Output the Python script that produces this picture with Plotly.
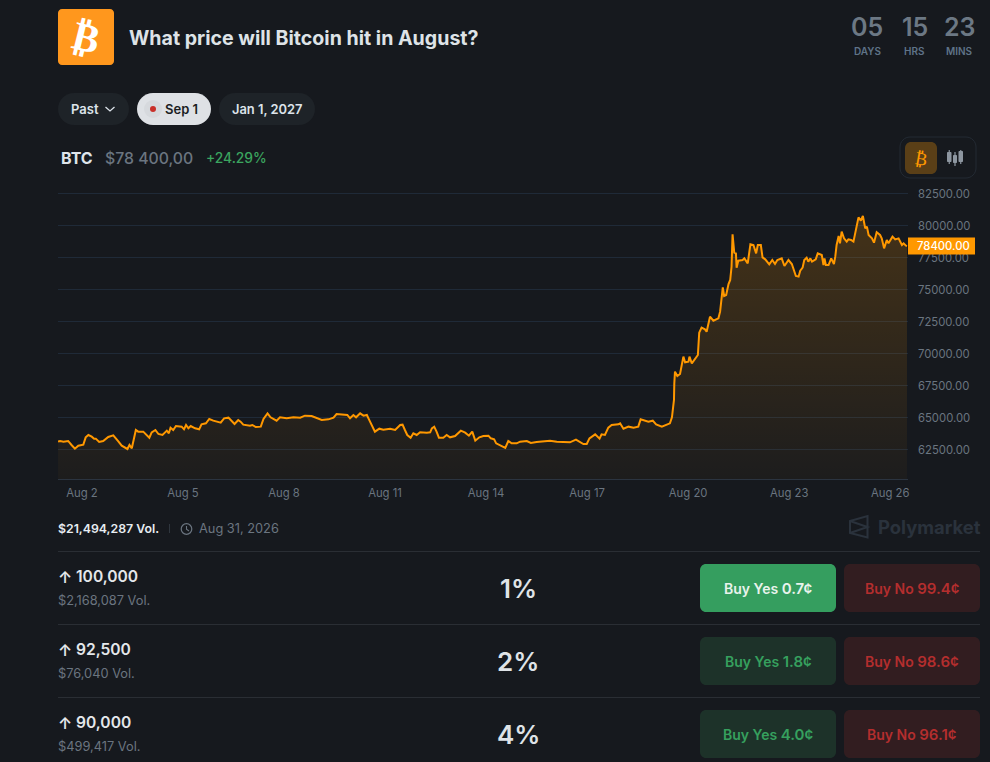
import plotly.graph_objects as go

W, H = 990, 762
BG = "#16191e"

# ---------- chart data ----------
days = [1.29,1.35,1.45,1.59,1.69,1.79,1.89,2.04,2.11,2.19,2.29,2.36,2.41,2.51,2.63,2.78,2.93,3.0,3.08,3.18,3.35,3.41,3.48,3.6,3.67,3.82,4.0,4.07,4.18,4.27,4.39,4.52,4.58,4.63,4.71,4.79,4.96,5.03,5.09,5.16,5.23,5.36,5.48,5.55,5.68,5.78,5.9,6.12,6.22,6.35,6.53,6.64,6.71,6.79,6.99,7.06,7.16,7.31,7.39,7.51,7.6,7.78,7.88,8.08,8.28,8.48,8.62,8.82,8.97,9.12,9.32,9.47,9.56,9.81,9.88,9.96,10.06,10.14,10.26,10.36,10.46,10.54,10.63,10.7,10.83,10.95,11.15,11.3,11.45,11.52,11.59,11.66,11.76,11.84,11.94,12.04,12.24,12.34,12.39,12.46,12.53,12.6,12.73,12.83,12.93,13.08,13.25,13.38,13.49,13.59,13.68,13.8,13.92,14.07,14.14,14.24,14.3,14.41,14.51,14.57,14.66,14.76,14.91,15.01,15.21,15.33,15.5,15.7,15.9,16.1,16.35,16.49,16.67,16.89,16.99,17.07,17.24,17.37,17.43,17.53,17.63,17.73,17.93,17.98,18.08,18.23,18.38,18.52,18.59,18.72,18.82,18.95,19.05,19.22,19.37,19.46,19.52,19.56,19.58,19.59,19.61,19.68,19.76,19.86,19.91,20.01,20.04,20.11,20.21,20.29,20.33,20.4,20.5,20.55,20.65,20.75,20.9,20.95,21.03,21.07,21.13,21.2,21.25,21.29,21.32,21.37,21.42,21.44,21.49,21.56,21.62,21.67,21.77,21.85,21.94,22.02,22.07,22.16,22.21,22.29,22.41,22.5,22.58,22.65,22.78,22.86,22.98,23.08,23.2,23.28,23.33,23.4,23.45,23.52,23.57,23.63,23.68,23.79,23.85,23.97,24.02,24.05,24.09,24.17,24.25,24.33,24.37,24.41,24.47,24.51,24.56,24.63,24.71,24.76,24.84,24.91,24.99,25.06,25.13,25.19,25.26,25.31,25.36,25.46,25.52,25.6,25.7,25.75,25.82,25.9,25.95,26.07,26.15,26.25,26.35,26.4,26.47,26.5]
prices = [63113,63165,63113,63165,62852,62566,62800,62878,63451,63633,63503,63347,63347,63087,63165,63477,63607,63425,63139,62800,62540,62852,62592,64024,63894,63894,63425,63842,64024,63712,63633,63972,63764,64206,64024,64336,64284,64076,64415,64154,64336,64154,64076,64467,64545,64883,64753,64597,64935,64987,64493,64805,64675,64441,64363,64415,64258,64284,64883,65326,65013,64753,65013,64935,65013,64987,65144,65118,64987,64805,64857,64987,65274,65248,65196,64935,65196,65013,65326,65144,65196,64753,64284,63894,64128,64050,64128,64024,64415,64441,64024,63633,63425,63764,63633,63842,63816,63842,64154,64284,63894,63425,63425,63633,63451,63555,63972,63816,63581,63894,63191,63451,63555,63581,63373,63295,62982,62852,62722,62618,63165,62982,62982,63113,63165,63008,63087,63113,63191,63113,63061,63061,63269,62930,62930,63373,63685,63347,63685,63633,64206,64415,64467,64545,64128,64284,64206,64284,64857,64753,64675,64753,64467,64284,64415,64545,65013,65847,66368,67670,68581,68243,68399,69753,69311,69363,69753,69232,69545,69883,71628,72019,71888,71706,72878,72565,72748,73269,75170,74493,74571,75430,75742,76784,79310,77878,77826,76706,77253,77305,77305,77435,77044,78529,78477,77826,78477,78477,77513,77357,76966,77305,76992,77305,77435,76836,77305,76992,76055,76003,76472,76706,77305,77487,77175,77435,77175,77357,77826,77696,76914,77435,76914,76914,77435,76992,77565,78477,79180,78607,79518,78997,78737,78919,78867,78737,79779,80638,80378,80742,79779,79909,79258,78997,78659,79466,79258,78997,78216,78867,78607,79128,78919,78997,78477,78607,78425,78400]
x_ticks = [2,5,8,11,14,17,20,23,26]
x_labels = ["Aug 2","Aug 5","Aug 8","Aug 11","Aug 14","Aug 17","Aug 20","Aug 23","Aug 26"]
y_ticks = [62500,65000,67500,70000,72500,75000,77500,80000,82500]
last_price = 78400

# ---------- page data ----------
strikes = ["100,000","92,500","90,000"]
strike_vols = ["$2,168,087 Vol.","$76,040 Vol.","$499,417 Vol."]
chances = ["1%","2%","4%"]
yes_prices = ["0.7¢","1.8¢","4.0¢"]
no_prices = ["99.4¢","98.6¢","96.1¢"]
countdown_values = ["05","15","23"]
countdown_units = ["DAYS","HRS","MINS"]

FONT = "Inter"
GREY = "#6b7580"
AXIS = "#6a7580"

def px(x): return x / W
def py(y): return 1 - y / H

anns, shapes = [], []

def text(x, y, s, size, color, weight=400, anchor="left", family=FONT, angle=0):
    anns.append(dict(x=px(x), y=py(y), xref="paper", yref="paper", text=s, showarrow=False,
                     xanchor=anchor, yanchor="middle", align=anchor, textangle=angle, borderpad=0, borderwidth=0,
                     font=dict(family=family, size=size, color=color, weight=weight)))

def rrect(x0, y0, x1, y1, r, fill="rgba(0,0,0,0)", line=None, lw=1):
    k = 0.45 * r
    p = [f"M{px(x0+r)},{py(y0)}", f"L{px(x1-r)},{py(y0)}",
         f"C{px(x1-k)},{py(y0)} {px(x1)},{py(y0+k)} {px(x1)},{py(y0+r)}",
         f"L{px(x1)},{py(y1-r)}",
         f"C{px(x1)},{py(y1-k)} {px(x1-k)},{py(y1)} {px(x1-r)},{py(y1)}",
         f"L{px(x0+r)},{py(y1)}",
         f"C{px(x0+k)},{py(y1)} {px(x0)},{py(y1-k)} {px(x0)},{py(y1-r)}",
         f"L{px(x0)},{py(y0+r)}",
         f"C{px(x0)},{py(y0+k)} {px(x0+k)},{py(y0)} {px(x0+r)},{py(y0)}Z"]
    shapes.append(dict(type="path", xref="paper", yref="paper", path=" ".join(p), fillcolor=fill,
                       line=dict(color=line or "rgba(0,0,0,0)", width=lw if line else 0)))

def seg(x0, y0, x1, y1, color, w=1):
    shapes.append(dict(type="line", xref="paper", yref="paper", x0=px(x0), y0=py(y0), x1=px(x1), y1=py(y1),
                       line=dict(color=color, width=w)))

def circ(cx, cy, r, fill="rgba(0,0,0,0)", line=None, lw=1):
    shapes.append(dict(type="circle", xref="paper", yref="paper", x0=px(cx-r), x1=px(cx+r), y0=py(cy-r), y1=py(cy+r),
                       fillcolor=fill, line=dict(color=line or "rgba(0,0,0,0)", width=lw if line else 0)))

# ---------- header ----------
rrect(58, 9, 114, 65, 4, "#ff971d")
text(86, 37, "₿", 40, "#ffffff", 700, "center", "DejaVu Sans", 14)
text(129, 38, "What price will Bitcoin hit in August?", 19.6, "#dee3e7", 700)
for cx, v, u in zip([867, 914.5, 959.5], countdown_values, countdown_units):
    text(cx, 27, v, 25, "#6c7884", 600, "center")
    text(cx, 51, u, 10, "#5f7388", 600, "center")

# pills
rrect(58, 93, 129, 125, 16, "#1e2328")
text(71, 109, "Past", 13, "#dde3ea", 600)
shapes.append(dict(type="path", xref="paper", yref="paper", line=dict(color="#dde3ea", width=1.3),
                   path=f"M{px(105.5)},{py(107)} L{px(110)},{py(111)} L{px(114.5)},{py(107)}"))
rrect(137, 93, 211, 125, 16, "#dee1e5")
circ(153, 109, 9, "#d6d9dd")
circ(153, 109, 3, "#c9302a")
text(165, 109, "Sep 1", 13, "#1a1d22", 600)
rrect(219, 93, 315, 125, 16, "#1e2328")
text(267, 109, "Jan 1, 2027", 12.9, "#dde3ea", 600, "center")

# price row
text(61, 158, "BTC", 16, "#dfe5eb", 700)
text(105, 158, "$78 400,00", 15.8, GREY, 500)
text(205.5, 158, "+24.29%", 13.8, "#3ba55f", 500)

# chart-type toggle
rrect(900, 137, 976, 178, 10, line="#232a33")
rrect(905, 142, 937, 174, 6, "#5a3f17")
text(921, 158, "₿", 18, "#ff9800", 400, "center", "DejaVu Sans", 10)
for x0, x1, b0, b1, w0, w1 in [(947, 951.5, 152, 162, 150, 164), (953, 957, 155, 163, 152, 166), (958.5, 963, 151, 162, 150, 164)]:
    xm = (x0 + x1) / 2
    seg(xm, w0, xm, w1, "#8d96a0", 1.2)
    rrect(x0, b0, x1, b1, 1, "#8d96a0")

# tag on the price axis
shapes.append(dict(type="rect", xref="paper", yref="y", x0=px(908), x1=px(975), y0=last_price - 660, y1=last_price + 660,
                   fillcolor="#ff9800", line=dict(width=0)))
anns.append(dict(x=px(943), y=last_price, xref="paper", yref="y", text=f"{last_price:.2f}", showarrow=False,
                 xanchor="center", yanchor="middle", font=dict(family=FONT, size=11.3, color="#ffffff", weight=500)))

# ---------- footer ----------
text(58, 528.5, "$21,494,287 Vol.", 12.3, "#e8edf2", 600)
seg(169.5, 524, 169.5, 533, "#2f363e")
circ(186.5, 529, 5.3, line=GREY, lw=1.2)
shapes.append(dict(type="path", xref="paper", yref="paper", line=dict(color=GREY, width=1.1),
                   path=f"M{px(186.5)},{py(526)} L{px(186.5)},{py(529.3)} L{px(189)},{py(531)}"))
text(199, 528.5, "Aug 31, 2026", 12.8, GREY)
# Polymarket mark
LOGO = "#2a323c"
shapes.append(dict(type="path", xref="paper", yref="paper", line=dict(color=LOGO, width=2),
                   path=f"M{px(850)},{py(521)} L{px(867.5)},{py(516)} L{px(867.5)},{py(537.5)} L{px(850)},{py(533)} Z "
                        f"M{px(850)},{py(521)} L{px(867.5)},{py(527)} L{px(850)},{py(533)}"))
text(878, 527, "Polymarket", 18.4, LOGO, 700)

row_lines = [551.5, 624.5, 697.5]
for i, top in enumerate(row_lines):
    seg(58, top, 980, top, "#2a2e34")
    text(58, top + 25, "↑", 16, "#e4e7ea", 600)
    text(75.5, top + 25, strikes[i], 15.6, "#e4e7ea", 600)
    text(58, top + 48.5, strike_vols[i], 12.8, GREY)
    text(518, top + 36.5, chances[i], 26, "#dfe3e7", 600, "center")
    active = i == 0
    rrect(700, top + 12.5, 836, top + 60.5, 6, "#359e5f" if active else "#1d3229")
    rrect(844, top + 12.5, 980, top + 60.5, 6, "#321d20")
    yc = "#e9f3ec" if active else "#36a05e"
    text(768, top + 36.5, f'Buy Yes <span style="font-size:15px">{yes_prices[i]}</span>', 14, yc, 600, "center")
    text(912, top + 36.5, f'Buy No <span style="font-size:15px">{no_prices[i]}</span>', 14, "#b42e2e", 600, "center")

# ---------- chart ----------
fig = go.Figure()
fig.add_trace(go.Scatter(
    x=days, y=prices, mode="lines", fill="tozeroy",
    line=dict(color="#ff9800", width=2),
    fillgradient=dict(type="vertical", start=81000, stop=60195,
                      colorscale=[[0, "rgba(255,152,0,0.20)"], [1, "rgba(255,152,0,0.03)"]]),
    hoverinfo="skip", showlegend=False))

GRID = "#1f2a38"
fig.update_layout(
    width=W, height=H, margin=dict(l=0, r=0, t=0, b=0, autoexpand=False),
    paper_bgcolor=BG, plot_bgcolor=BG, showlegend=False, hovermode=False,
    xaxis=dict(domain=[px(58), px(908)], range=[1.288, 26.53], tickmode="array", tickvals=x_ticks, ticktext=x_labels,
               automargin=False, showgrid=False, zeroline=False, showline=True, linecolor="#2b3440", linewidth=1,
               ticks="", ticklabelstandoff=3, tickfont=dict(family=FONT, size=11.3, color=AXIS), fixedrange=True),
    yaxis=dict(domain=[py(479), py(186)], range=[60195, 83086], side="right", tickmode="array", tickvals=y_ticks,
               automargin=False, tickformat=".2f", showgrid=True, gridcolor=GRID, gridwidth=1, zeroline=False, showline=False,
               ticks="", ticklabelstandoff=9, ticklabelshift=1, tickfont=dict(family=FONT, size=11.3, color=AXIS), fixedrange=True),
    annotations=anns, shapes=shapes,
)

fig.write_html("out.html", config={"displayModeBar": False},
               post_script="document.body.style.margin='0';document.body.style.background='%s';document.body.style.overflow='hidden';" % BG)
